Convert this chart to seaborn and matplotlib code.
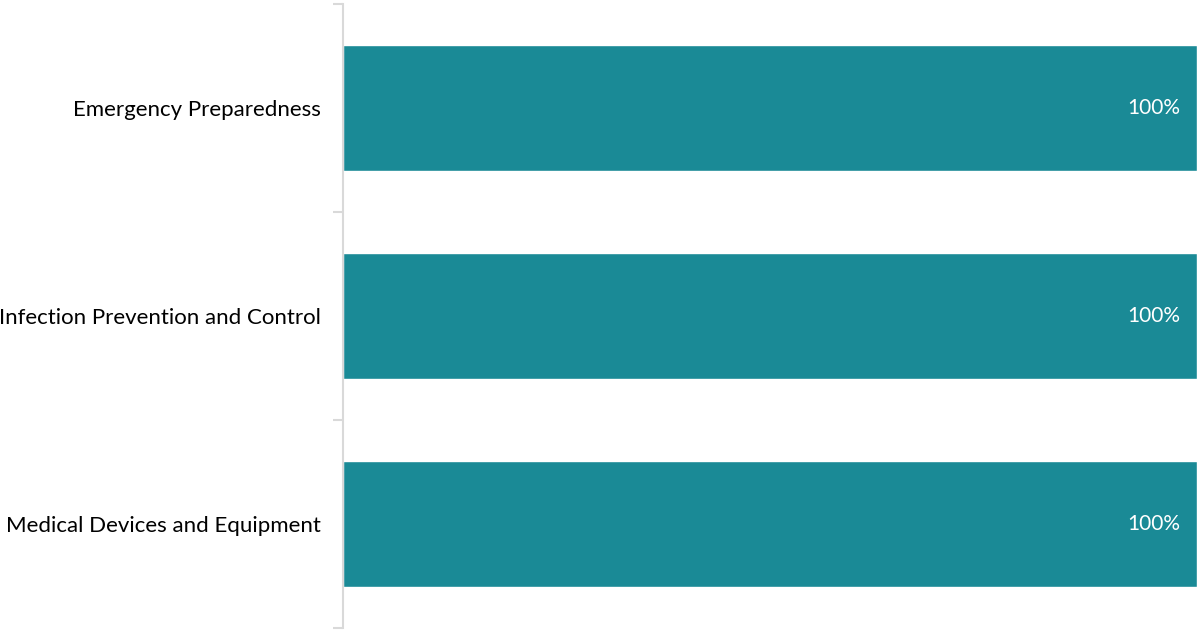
import pandas as pd
import seaborn as sns
import matplotlib.pyplot as plt
from matplotlib.ticker import FixedLocator

categories = ["Emergency Preparedness", "Infection Prevention and Control", "Medical Devices and Equipment"]
values = [100, 100, 100]
value_labels = ["100%", "100%", "100%"]

BAR_COLOR = "#1A8A96"
AXIS_COLOR = "#D9D9D9"

sns.set_style("white")
plt.rcParams["font.family"] = ["Lato", "DejaVu Sans"]

df = pd.DataFrame({"Category": categories, "Value": values})

fig = plt.figure(figsize=(11.97, 6.31), dpi=100)
ax = fig.add_axes([343 / 1197, 3 / 631, 1 - 343 / 1197, 624 / 631])

sns.barplot(data=df, x="Value", y="Category", order=categories,
            color=BAR_COLOR, width=0.605, saturation=1, ax=ax)

ax.set_xlim(0, 100)
ax.set_ylim(2.5, -0.5)
ax.set_xlabel("")
ax.set_ylabel("")
ax.set_xticks([])

for s in ["top", "right", "bottom"]:
    ax.spines[s].set_visible(False)
ax.spines["left"].set_color(AXIS_COLOR)
ax.spines["left"].set_linewidth(1.5)

ax.yaxis.set_minor_locator(FixedLocator([-0.5, 0.5, 1.5, 2.5]))
ax.tick_params(axis="y", which="major", length=0, pad=16, labelsize=16, labelcolor="#000000")
ax.tick_params(axis="y", which="minor", length=7, width=1.5, color=AXIS_COLOR, left=True)

for i, lab in enumerate(value_labels):
    ax.text(values[i] - 2.0, i, lab, ha="right", va="center",
            color="white", fontsize=15)

fig.savefig("out.png", dpi=100)
